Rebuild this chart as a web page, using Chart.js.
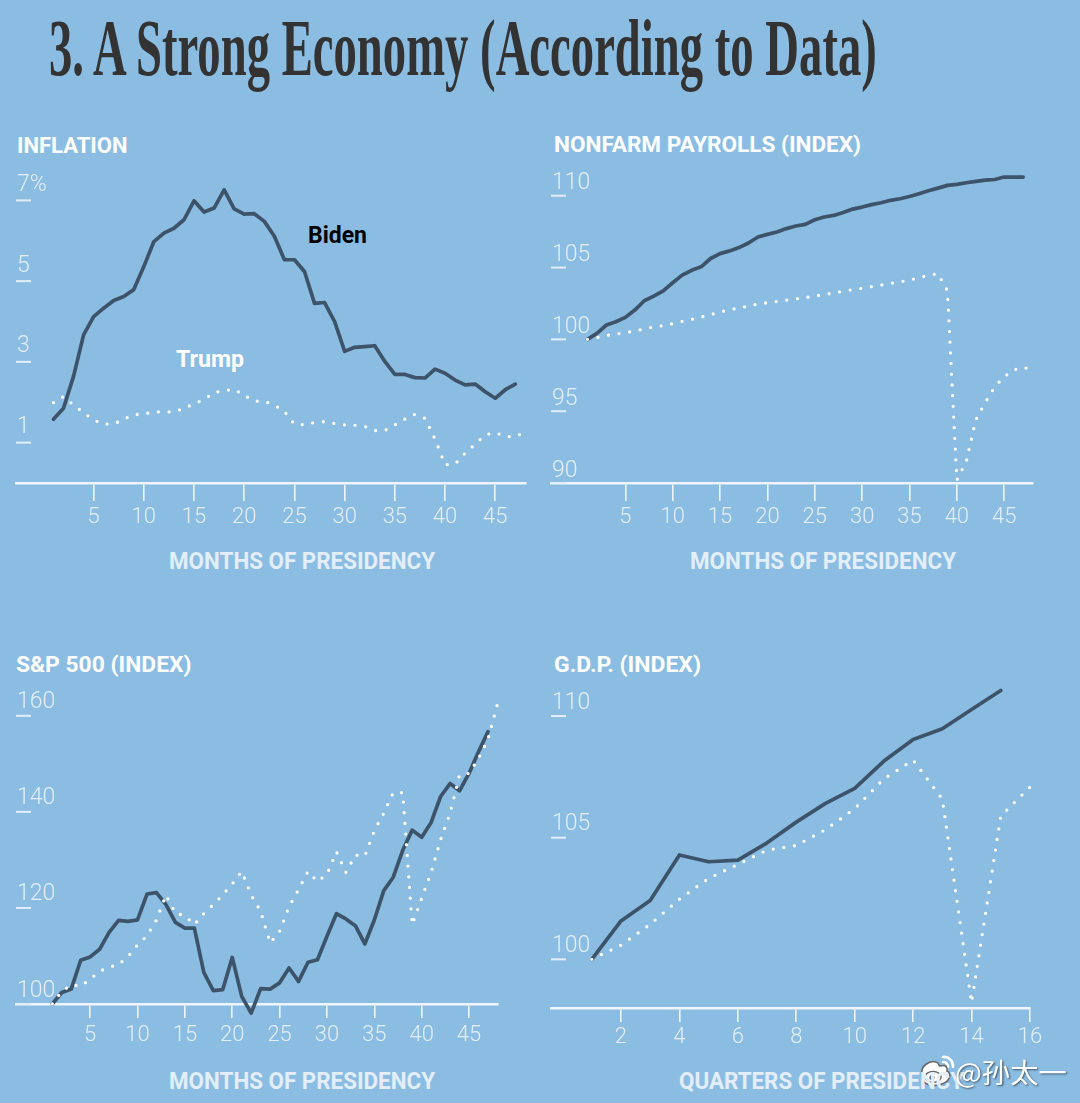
<!DOCTYPE html>
<html>
<head>
<meta charset="utf-8">
<script src="https://cdn.jsdelivr.net/npm/chart.js@4.4.1/dist/chart.umd.min.js"></script>
<style>
html,body{margin:0;padding:0;}
body{width:1080px;height:1103px;background:#8bbde3;position:relative;overflow:hidden;}
.t{position:absolute;white-space:nowrap;transform-origin:0 0;margin:0;padding:0;}
canvas{position:absolute;}
</style>
</head>
<body>
<svg id="wb" style="position:absolute;left:916px;top:1052px;" width="42" height="38" viewBox="0 0 42 38">
  <path d="M27 5 a9 9 0 0 1 10 10" fill="none" stroke="#fff" stroke-width="2.6" stroke-linecap="round"/>
  <path d="M27 10 a4.5 4.5 0 0 1 5 5" fill="none" stroke="#fff" stroke-width="2.4" stroke-linecap="round"/>
  <path d="M6 22 C4 14 14 8 20 10 C24 11 22 14 24 14 C30 12 32 16 31 19 C36 21 35 31 22 33 C11 35 5 30 6 22 Z" fill="#fff" stroke="#666" stroke-width="1.6"/>
  <ellipse cx="17" cy="25" rx="8" ry="5.5" fill="none" stroke="#666" stroke-width="1.6"/>
  <circle cx="16" cy="25.5" r="2.6" fill="#555"/>
</svg>
<script>
// ---------- DATA ----------
const MONTHS = Array.from({length: 48}, (_, i) => i + 1);
const QUARTERS = Array.from({length: 16}, (_, i) => i + 1);
const MONTH_TICKS = [5, 10, 15, 20, 25, 30, 35, 40, 45];
const QUARTER_TICKS = [2, 4, 6, 8, 10, 12, 14, 16];

const INFL_TICKS = [1, 3, 5, 7];
const INFL_TICK_LABELS = ['1', '3', '5', '7%'];
const PAY_TICKS = [90, 95, 100, 105, 110];
const PAY_TICK_LABELS = ['90', '95', '100', '105', '110'];
const SP_TICKS = [100, 120, 140, 160];
const SP_TICK_LABELS = ['100', '120', '140', '160'];
const GDP_TICKS = [100, 105, 110];
const GDP_TICK_LABELS = ['100', '105', '110'];

const INFL_BIDEN = [1.58,1.85,2.64,3.67,4.12,4.33,4.52,4.62,4.79,5.36,5.98,6.19,6.31,6.52,6.99,6.71,6.81,7.26,6.79,6.66,6.67,6.48,6.11,5.53,5.53,5.24,4.45,4.47,4.00,3.26,3.36,3.38,3.40,3.01,2.69,2.69,2.61,2.60,2.82,2.72,2.55,2.43,2.45,2.26,2.10,2.31,2.45];
const INFL_TRUMP = [1.99,2.14,1.93,1.74,1.56,1.46,1.46,1.58,1.69,1.71,1.76,1.76,1.76,1.85,1.96,2.07,2.24,2.29,2.32,2.17,2.03,2.02,1.93,1.77,1.46,1.44,1.50,1.52,1.47,1.44,1.43,1.40,1.30,1.30,1.44,1.58,1.70,1.60,1.09,0.45,0.47,0.74,0.96,1.19,1.25,1.15,1.15,1.27];

const PAY_BIDEN = [100.0,100.42,101.0,101.23,101.53,102.04,102.69,103.01,103.38,103.94,104.47,104.81,105.05,105.63,105.97,106.16,106.39,106.71,107.13,107.31,107.48,107.71,107.89,108.01,108.33,108.52,108.63,108.84,109.07,109.21,109.38,109.51,109.68,109.79,109.95,110.14,110.35,110.53,110.72,110.79,110.90,111.0,111.09,111.13,111.30,111.30,111.30];
const PAY_TRUMP = [100.0,100.12,100.27,100.37,100.47,100.58,100.72,100.86,100.96,101.09,101.25,101.39,101.55,101.72,101.90,102.06,102.18,102.33,102.45,102.55,102.64,102.73,102.82,102.90,103.01,103.12,103.23,103.35,103.46,103.56,103.67,103.78,103.89,104.00,104.12,104.30,104.45,104.58,103.4,90.2,91.5,94.4,95.6,96.7,97.4,97.87,98.06,97.87];

const SP_BIDEN = [100,102.4,103.1,109.1,109.8,111.4,114.9,117.4,117.2,117.5,122.9,123.2,120.7,117.0,115.8,115.8,106.6,102.8,103.0,109.7,101.6,98.1,103.2,103.1,104.4,107.5,104.7,108.7,109.2,114.1,118.8,117.7,116.3,112.5,117.5,123.6,126.4,132.0,136.2,134.7,137.8,143.2,145.9,144.4,148.0,152.5,156.7];
const SP_TRUMP = [100,102.6,104.0,103.7,105.2,106.8,107.7,108.2,109.9,112.3,114.2,117.5,122.7,118.9,118.4,116.5,118.8,120.7,122.7,125.0,127.6,122.7,119.3,112.7,115.1,120.3,123.8,127.6,125.5,127.0,131.7,127.4,131.0,130.8,136.1,139.7,144.0,144.0,116.5,122.0,127.4,134.2,139.7,147.7,148.0,151.1,155.1,162.4];

const GDP_BIDEN = [100.0,101.58,102.42,104.29,104.01,104.08,104.79,105.64,106.41,107.03,108.15,109.04,109.48,110.27,111.05];
const GDP_TRUMP = [100,100.58,101.44,102.47,103.33,103.90,104.49,104.68,105.33,106.19,107.42,108.19,106.58,98.22,105.89,107.08];

// ---------- STYLE ----------
const BIDEN_COLOR = '#3d5369';
const TRUMP_COLOR = '#ffffff';
const PALE = '#e3eef9';
const AXIS_COLOR = '#eef5fc';
const SANS = 'Roboto, "Liberation Sans", "DejaVu Sans", sans-serif';
const PL = 10, PR = 30, PT = 10, AXH = 70;

// ---------- TEXT ----------
const mctx = document.createElement('canvas').getContext('2d');
function addText(txt, o) {
  const el = document.createElement('div');
  el.className = 't';
  el.textContent = txt;
  const font = `${o.weight || 'normal'} ${o.size}px ${o.family || SANS}`;
  el.style.font = font;
  el.style.lineHeight = o.size + 'px';
  el.style.color = o.color;
  if (o.shadow) el.style.textShadow = o.shadow;
  mctx.font = font;
  const m = mctx.measureText(txt);
  const asc = m.fontBoundingBoxAscent, desc = m.fontBoundingBoxDescent;
  const baseOff = (o.size - (asc + desc)) / 2 + asc;
  el.style.left = o.x + 'px';
  el.style.top = (o.baseline - baseOff) + 'px';
  if (o.width) el.style.transform = `scaleX(${o.width / m.width})`;
  document.body.appendChild(el);
}

addText('3. A Strong Economy (According to Data)', {x: 49, baseline: 75, size: 81, weight: 'bold', family: '"Liberation Serif", "DejaVu Serif", serif', color: '#333333', width: 833});

const HEAD = {size: 22, weight: 'bold', color: '#ffffff'};
addText('INFLATION', {...HEAD, x: 16.5, baseline: 153, width: 110.5});
addText('NONFARM PAYROLLS (INDEX)', {...HEAD, x: 554, baseline: 152, width: 307});
addText('S&P 500 (INDEX)', {...HEAD, x: 15.5, baseline: 672, width: 175.5});
addText('G.D.P. (INDEX)', {...HEAD, x: 554, baseline: 672, width: 147});

const AX = {size: 23, weight: 'bold', color: PALE};
addText('MONTHS OF PRESIDENCY', {...AX, x: 169, baseline: 568.5, width: 266});
addText('MONTHS OF PRESIDENCY', {...AX, x: 690, baseline: 568.5, width: 266});
addText('MONTHS OF PRESIDENCY', {...AX, x: 169, baseline: 1088.5, width: 266});
addText('QUARTERS OF PRESIDENCY', {...AX, x: 678.5, baseline: 1088.5, width: 285});

addText('Biden', {x: 308, baseline: 242.7, size: 23, weight: 'bold', color: '#000000', width: 59});
addText('Trump', {x: 176, baseline: 366.7, size: 23, weight: 'bold', color: '#ffffff', width: 68});

// ---------- CHARTS ----------
const yTickPlugin = {
  id: 'yTickMarks',
  beforeDatasetsDraw(chart, args, opts) {
    const {ctx, chartArea} = chart;
    const ys = chart.scales.y;
    ctx.save();
    opts.values.forEach((v, i) => {
      const py = ys.getPixelForValue(v);
      ctx.strokeStyle = PALE;
      ctx.lineWidth = 2;
      ctx.beginPath();
      ctx.moveTo(chartArea.left, py);
      ctx.lineTo(chartArea.left + 15, py);
      ctx.stroke();
      ctx.fillStyle = PALE;
      ctx.font = `300 23px ${SANS}`;
      ctx.textAlign = 'left';
      ctx.textBaseline = 'alphabetic';
      ctx.fillText(opts.labels[i], chartArea.left + 1, py - opts.gap);
    });
    ctx.restore();
  }
};

const PANELS = [
  {area: [16, 160, 526, 483], x: [-2.73, 48.06], y: [0, 8], xt: MONTH_TICKS, yt: INFL_TICKS, yl: INFL_TICK_LABELS,
   cats: MONTHS, biden: INFL_BIDEN, trump: INFL_TRUMP, tickLen: 18, tickPad: 3, gap: 9.5},
  {area: [551, 167, 1033, 483], x: [-2.85, 48.04], y: [90, 112], xt: MONTH_TICKS, yt: PAY_TICKS, yl: PAY_TICK_LABELS,
   cats: MONTHS, biden: PAY_BIDEN, trump: PAY_TRUMP, tickLen: 18, tickPad: 3, gap: 6.3},
  {area: [16, 687, 498, 1004], x: [-2.83, 48.06], y: [100, 166], xt: MONTH_TICKS, yt: SP_TICKS, yl: SP_TICK_LABELS,
   cats: MONTHS, biden: SP_BIDEN, trump: SP_TRUMP, tickLen: 14, tickPad: 4, gap: 7.5},
  {area: [551, 672, 1030, 1008], x: [-0.395, 16], y: [98, 111.81], xt: QUARTER_TICKS, yt: GDP_TICKS, yl: GDP_TICK_LABELS,
   cats: QUARTERS, biden: GDP_BIDEN, trump: GDP_TRUMP, tickLen: 14, tickPad: 2, gap: 7.5}
];

function pts(cats, vals) { return vals.map((v, i) => ({x: cats[i], y: v})); }

PANELS.forEach(p => {
  const cv = document.createElement('canvas');
  const W = p.area[2] - p.area[0] + PL + PR;
  const H = p.area[3] - p.area[1] + PT + AXH;
  cv.width = W; cv.height = H;
  cv.style.left = (p.area[0] - PL) + 'px';
  cv.style.top = (p.area[1] - PT) + 'px';
  cv.style.width = W + 'px';
  cv.style.height = H + 'px';
  document.body.appendChild(cv);
  new Chart(cv, {
    type: 'line',
    data: {
      datasets: [
        {label: 'Trump', data: pts(p.cats, p.trump), borderColor: TRUMP_COLOR, borderWidth: 3.3,
         borderDash: [0, 10.7], borderCapStyle: 'round', borderJoinStyle: 'round',
         pointRadius: 0, tension: 0, fill: false, clip: false},
        {label: 'Biden', data: pts(p.cats, p.biden), borderColor: BIDEN_COLOR, borderWidth: 3.7,
         borderCapStyle: 'round', borderJoinStyle: 'round',
         pointRadius: 0, tension: 0, fill: false, clip: false}
      ]
    },
    options: {
      responsive: false,
      animation: false,
      devicePixelRatio: 1,
      events: [],
      layout: {padding: {left: PL, right: PR, top: PT, bottom: 0}},
      plugins: {
        legend: {display: false},
        tooltip: {enabled: false},
        yTickMarks: {values: p.yt, labels: p.yl, gap: p.gap}
      },
      scales: {
        x: {
          type: 'linear', min: p.x[0], max: p.x[1],
          afterBuildTicks: s => { s.ticks = p.xt.map(v => ({value: v})); },
          afterFit: s => { s.height = AXH; s.paddingLeft = 0; s.paddingRight = 0; },
          grid: {display: true, drawOnChartArea: false, drawTicks: true, tickLength: p.tickLen,
                 color: AXIS_COLOR, lineWidth: 1.6},
          border: {display: true, color: AXIS_COLOR, width: 2.4},
          ticks: {color: PALE, padding: p.tickPad, autoSkip: false, maxRotation: 0,
                  font: {family: SANS, size: 22, weight: '300'}}
        },
        y: {
          type: 'linear', display: false, min: p.y[0], max: p.y[1],
          afterFit: s => { s.width = 0; s.paddingTop = 0; s.paddingBottom = 0; }
        }
      }
    },
    plugins: [yTickPlugin]
  });
});

addText('@孙太一', {x: 955, baseline: 1083, size: 27, weight: 'normal', family: '"Noto Sans CJK SC", sans-serif',
  color: '#ffffff', width: 112, shadow: '1px 1px 2px rgba(0,0,0,0.55)'});
</script>
</body>
</html>
